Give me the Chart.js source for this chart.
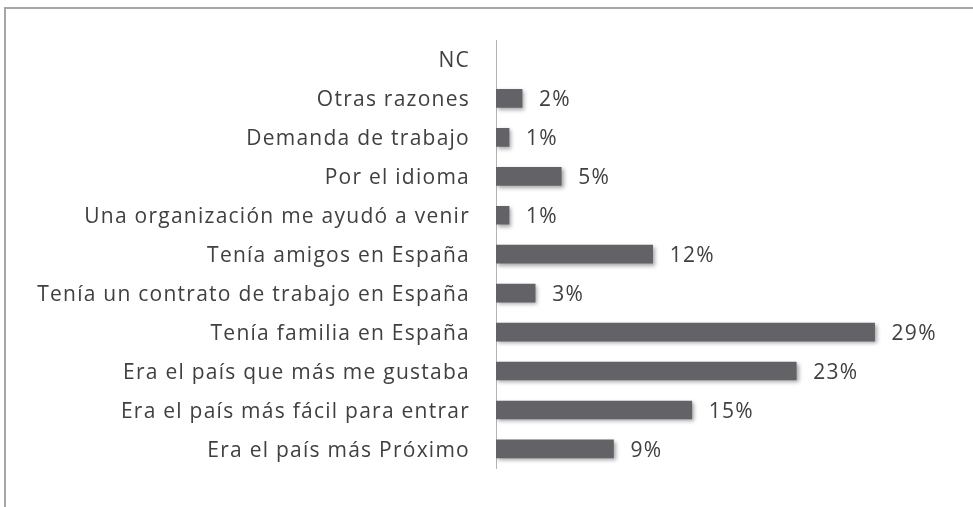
<!DOCTYPE html>
<html>
<head>
<meta charset="utf-8">
<script src="https://cdn.jsdelivr.net/npm/chart.js@4"></script>
<style>
  html, body { margin: 0; padding: 0; background: #fff; }
  #wrap { position: relative; width: 973px; height: 507px; }
  #frame { position: absolute; left: 4px; top: 7px; width: 980px; height: 520px;
           border-left: 2px solid #a6a6a6; border-top: 2px solid #a6a6a6; box-sizing: border-box; }
  canvas { position: absolute; left: 0; top: 0; }
</style>
</head>
<body>
<div id="wrap">
  <div id="frame"></div>
  <canvas id="myChart" width="973" height="507"></canvas>
</div>
<script>
const categories = [
  'NC',
  'Otras razones',
  'Demanda de trabajo',
  'Por el idioma',
  'Una organización me ayudó a venir',
  'Tenía amigos en España',
  'Tenía un contrato de trabajo en España',
  'Tenía familia en España',
  'Era el país que más me gustaba',
  'Era el país más fácil para entrar',
  'Era el país más Próximo'
]
const percentages = [null, 2, 1, 5, 1, 12, 3, 29, 23, 15, 9]
const valueLabels = ['', '2%', '1%', '5%', '1%', '12%', '3%', '29%', '23%', '15%', '9%']

const fontName = '"Open Sans"'

// letras un poco mas separadas, como el original
const spacingPlugin = {
  id: 'spacing',
  beforeDraw(chart) {
    chart.ctx.letterSpacing = '1.25px'
  }
}

// etiquetas de valor al final de cada barra
const valueLabelPlugin = {
  id: 'valueLabels',
  afterDatasetsDraw(chart) {
    const ctx = chart.ctx
    const meta = chart.getDatasetMeta(0)
    ctx.save()
    ctx.fillStyle = '#404040'
    ctx.font = `21px ${fontName}`
    ctx.textBaseline = 'middle'
    ctx.textAlign = 'left'
    meta.data.forEach((bar, i) => {
      if (!valueLabels[i]) return
      ctx.fillText(valueLabels[i], bar.x + 17, bar.y + 2)
    })
    ctx.restore()
  }
}

const shadowPlugin = {
  id: 'barShadow',
  beforeDatasetDraw(chart) {
    const ctx = chart.ctx
    ctx.save()
    ctx.shadowColor = 'rgba(0,0,0,0.35)'
    ctx.shadowBlur = 4
    ctx.shadowOffsetX = 2
    ctx.shadowOffsetY = 2
  },
  afterDatasetDraw(chart) {
    chart.ctx.restore()
  }
}

const ctx = document.getElementById('myChart')
const myChart = new Chart(ctx, {
  type: 'bar',
  data: {
    labels: categories,
    datasets: [{
      data: percentages,
      backgroundColor: '#626267',
      borderWidth: 0,
      barThickness: 18
    }]
  },
  options: {
    indexAxis: 'y',
    responsive: false,
    animation: false,
    layout: { padding: { top: 40, bottom: 26, left: 0, right: 7 } },
    plugins: {
      legend: { display: false },
      tooltip: { enabled: false }
    },
    scales: {
      x: {
        display: false,
        min: 0,
        max: 36
      },
      y: {
        afterFit(scale) { scale.width = 496 },
        grid: { display: false, drawTicks: false },
        border: { display: true, color: '#b4b4b4', width: 1 },
        ticks: {
          padding: 26,
          labelOffset: 2,
          color: '#404040',
          font: { family: fontName, size: 21 }
        }
      }
    }
  },
  plugins: [spacingPlugin, shadowPlugin, valueLabelPlugin]
})
</script>
</body>
</html>
